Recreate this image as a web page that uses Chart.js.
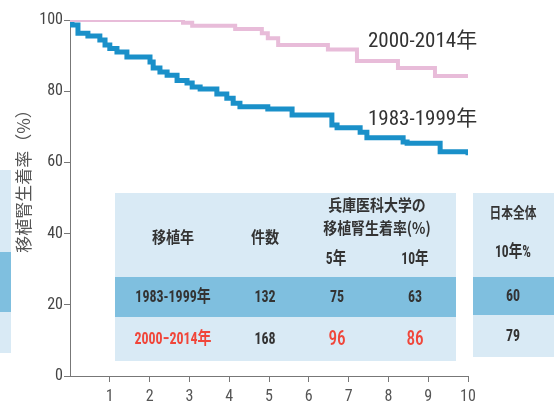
<!DOCTYPE html>
<html>
<head>
<meta charset="utf-8">
<script src="https://cdn.jsdelivr.net/npm/chart.js@4.4.0/dist/chart.umd.min.js"></script>
<style>
  html, body { margin: 0; padding: 0; background: #fff; }
</style>
</head>
<body>
<canvas id="survivalChart" width="554" height="405"></canvas>
<script>
// Kaplan-Meier steps: year of drop -> graft survival (%) after the drop
const earlyYears = [0, 0.05, 0.2, 0.45, 0.75, 0.88, 1.0, 1.18, 1.43, 2.01, 2.09, 2.26, 2.44, 2.69, 2.94, 3.07, 3.27, 3.69, 3.94, 4.1, 4.27, 4.97, 5.58, 6.58, 6.71, 7.29, 7.46, 8.37, 8.47, 9.3, 10];
const earlyRates = [100, 98.6, 96.3, 95.5, 94.4, 93, 92, 91, 89.6, 88.2, 86.5, 85.4, 84.5, 83, 82.3, 81.2, 80.6, 79.2, 78, 76.6, 75.6, 75, 73.3, 70.5, 69.7, 68.5, 66.9, 65.7, 65.4, 63, 62];
const lateYears = [0, 2.84, 3.07, 4.15, 4.82, 4.97, 5.23, 6.48, 7.21, 8.24, 9.17, 10];
const lateRates = [100, 99.2, 98.4, 97.5, 96.3, 94.9, 93, 91.7, 88.5, 86.5, 84.3, 84.3];

const seriesNames = ['1983-1999年', '2000-2014年'];
const yTickValues = [0, 20, 40, 60, 80, 100];
const xTickValues = [1, 2, 3, 4, 5, 6, 7, 8, 9, 10];
const yTitle = '移植腎生着率（%）';

// table contents
const headPeriod = '移植年';
const headCount = '件数';
const headRate = ['兵庫医科大学の', '移植腎生着率(%)'];
const rateCols = ['5年', '10年'];
const periods = ['1983-1999年', '2000−2014年'];
const counts = [132, 168];
const rate5 = [75, 96];
const rate10 = [63, 86];
const japanHead = ['日本全体', '10年%'];
const japan10 = [60, 79];

const BLUE = '#1a90c9';
const PINK = '#e8bcd9';
const LIGHT = '#d9eaf5';
const DARK = '#7fbfdf';
const RED = '#f0463a';
const INK = '#333';
const NARROW = '"Roboto Condensed", "Noto Sans CJK JP", sans-serif';
const JP = '"Noto Sans CJK JP", sans-serif';

function toPoints(xs, ys) {
    return xs.map((x, i) => ({ x: x, y: ys[i] }));
}

// centred text, squeezed horizontally like the condensed gothic of the original
function squeezed(ctx, text, x, y, font, color, sx) {
    ctx.save();
    ctx.translate(x, y);
    ctx.scale(sx, 1);
    ctx.font = font;
    ctx.fillStyle = color;
    ctx.textAlign = 'center';
    ctx.textBaseline = 'middle';
    ctx.fillText(text, 0, 0);
    ctx.restore();
}

const overlayPlugin = {
    id: 'overlay',
    beforeDatasetsDraw(chart) {
        const ctx = chart.ctx;
        ctx.save();

        // partial table at the left edge
        ctx.fillStyle = LIGHT;
        ctx.fillRect(0, 170, 11, 183);
        ctx.fillStyle = DARK;
        ctx.fillRect(0, 252, 11, 60);

        // main table
        ctx.fillStyle = LIGHT;
        ctx.fillRect(115, 193, 341, 168);
        ctx.fillStyle = DARK;
        ctx.fillRect(115, 277, 341, 40);

        // Japan table
        ctx.fillStyle = LIGHT;
        ctx.fillRect(473, 193, 81, 164);
        ctx.fillStyle = DARK;
        ctx.fillRect(473, 277, 81, 38);

        const headFont = 'bold 16px ' + JP;
        squeezed(ctx, headPeriod, 173, 237, headFont, INK, 0.88);
        squeezed(ctx, headCount, 265, 237, headFont, INK, 0.88);
        squeezed(ctx, headRate[0], 377, 205, headFont, INK, 0.87);
        squeezed(ctx, headRate[1], 377, 228, headFont, INK, 0.87);
        squeezed(ctx, japanHead[0], 513, 212, 'bold 15px ' + JP, INK, 0.78);

        const numFont = 'bold 17px ' + NARROW;
        squeezed(ctx, rateCols[0], 336, 260, numFont, INK, 0.8);
        squeezed(ctx, rateCols[1], 415, 260, numFont, INK, 0.8);
        squeezed(ctx, japanHead[1], 513, 253, numFont, INK, 0.8);

        const rowY = [298, 340];
        const japanY = [297, 337];
        for (let i = 0; i < periods.length; i++) {
            const y = rowY[i];
            const red = i === 1;
            squeezed(ctx, periods[i], 173, y, numFont, red ? RED : INK, 0.82);
            squeezed(ctx, String(counts[i]), 265, y, numFont, INK, 0.82);
            squeezed(ctx, String(japan10[i]), 513, japanY[i], numFont, INK, 0.82);
            const rateFont = red ? '500 21px ' + NARROW : numFont;
            const rateColor = red ? RED : INK;
            squeezed(ctx, String(rate5[i]), 337, y, rateFont, rateColor, 0.82);
            squeezed(ctx, String(rate10[i]), 415, y, rateFont, rateColor, 0.82);
        }

        // series labels
        ctx.textAlign = 'left';
        ctx.textBaseline = 'middle';
        ctx.fillStyle = INK;
        ctx.font = '21px ' + NARROW;
        ctx.fillText(seriesNames[1], 368, 42);
        ctx.fillText(seriesNames[0], 368, 120);

        // y axis title
        ctx.translate(24, 177);
        ctx.rotate(-Math.PI / 2);
        ctx.textAlign = 'center';
        ctx.fillStyle = '#555';
        ctx.font = '17px ' + JP;
        ctx.fillText(yTitle, 0, 0);

        ctx.restore();
    }
};

document.addEventListener('DOMContentLoaded', function() {
    const canvas = document.getElementById('survivalChart');
    new Chart(canvas, {
        type: 'line',
        data: {
            datasets: [{
                label: seriesNames[1],
                data: toPoints(lateYears, lateRates),
                borderColor: PINK,
                borderWidth: 4,
                stepped: true,
                pointRadius: 0,
                fill: false
            }, {
                label: seriesNames[0],
                data: toPoints(earlyYears, earlyRates),
                borderColor: BLUE,
                borderWidth: 5,
                stepped: true,
                pointRadius: 0,
                fill: false
            }]
        },
        options: {
            responsive: false,
            animation: false,
            devicePixelRatio: 1,
            layout: {
                padding: { top: 20, right: 86, left: 0, bottom: 0 }
            },
            plugins: {
                legend: { display: false },
                tooltip: { enabled: false }
            },
            scales: {
                x: {
                    type: 'linear',
                    min: 0,
                    max: 10,
                    afterBuildTicks: function(scale) {
                        scale.ticks = xTickValues.map(v => ({ value: v }));
                    },
                    afterFit: function(scale) {
                        scale.height = 29;
                    },
                    grid: {
                        drawOnChartArea: false,
                        tickLength: 6,
                        color: '#777'
                    },
                    border: { color: '#777', width: 1 },
                    ticks: {
                        padding: 5,
                        color: '#555',
                        maxRotation: 0,
                        font: { family: NARROW, size: 16 }
                    }
                },
                y: {
                    min: 0,
                    max: 100,
                    afterBuildTicks: function(scale) {
                        scale.ticks = yTickValues.map(v => ({ value: v }));
                    },
                    afterFit: function(scale) {
                        scale.width = 70;
                    },
                    grid: {
                        drawOnChartArea: false,
                        tickLength: 6,
                        color: '#777'
                    },
                    border: { color: '#777', width: 1 },
                    ticks: {
                        padding: 1,
                        color: '#444',
                        font: { family: NARROW, size: 16 }
                    }
                }
            }
        },
        plugins: [overlayPlugin]
    });
});
</script>
</body>
</html>
